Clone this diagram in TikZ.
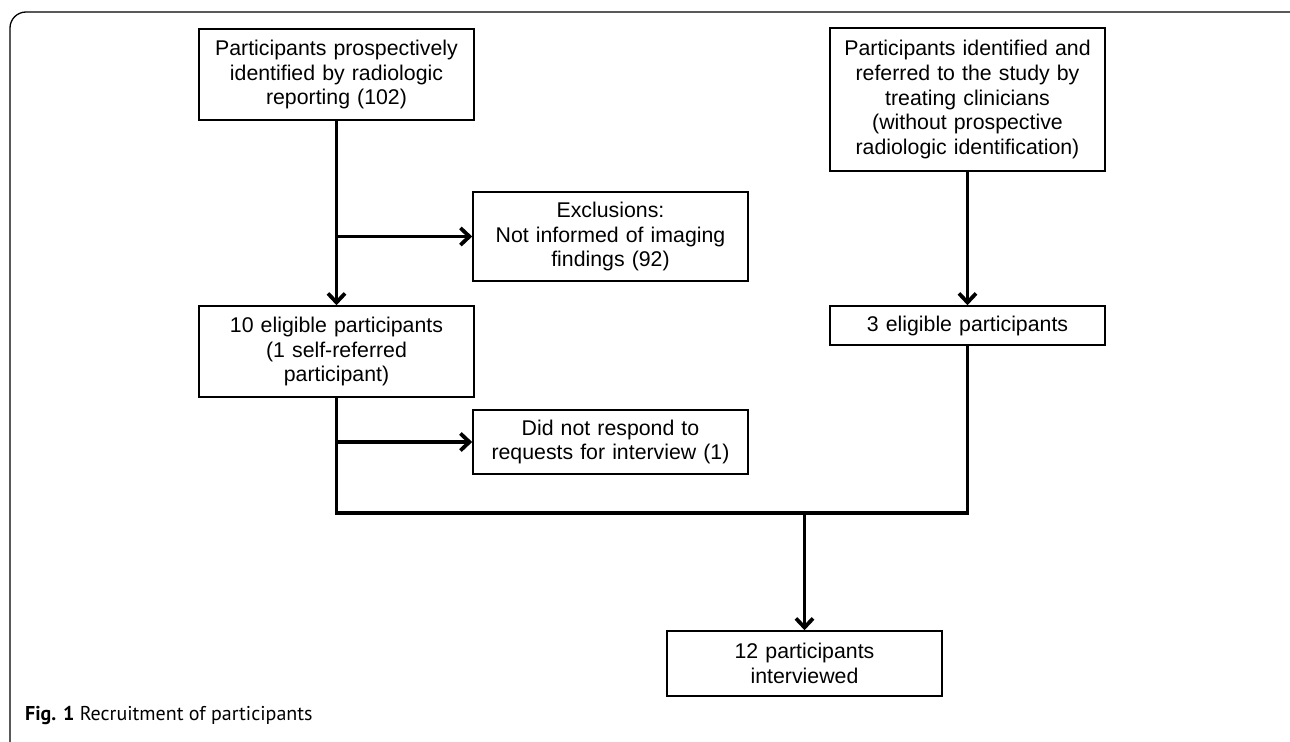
\documentclass[tikz,border=0pt]{standalone}
\usepackage{fontspec}
\setmainfont{Liberation Sans}
\newfontfamily\capfont{PT Sans}
\usetikzlibrary{arrows.meta}
\begin{document}
\begin{tikzpicture}[x=1bp,y=-1bp,
  box/.style={draw, line width=1.6bp, minimum width=275bp, text width=270bp,
    align=center, inner sep=0pt,
    font=\fontsize{21.3bp}{24.6bp}\selectfont},
  conn/.style={line width=3.8bp, line join=miter},
  arr/.style={conn, -{Straight Barb[length=9bp,width=17bp]}}]
\useasboundingbox (0,0) rectangle (1290,742);
\clip (0,0) rectangle (1290,742);
\draw[line width=1.3bp, rounded corners=16bp] (10,12) rectangle (1310,770);

\node[box, minimum height=91bp]  (A)    at (336.5,74.5)  {Participants prospectively\\identified by radiologic\\reporting (102)};
\node[box, minimum height=143bp] (B)    at (967.5,99.5)  {Participants identified and\\referred to the study by\\treating clinicians\\(without prospective\\radiologic identification)};
\node[box, minimum height=89bp]  (Excl) at (610.5,236.5) {Exclusions:\\Not informed of imaging\\findings (92)};
\node[box, minimum height=91bp]  (E10)  at (336.5,351.5) {10 eligible participants\\(1 self-referred\\participant)};
\node[box, minimum height=39bp]  (E3)   at (967.5,325.5) {3 eligible participants};
\node[box, minimum height=64bp]  (DNR)  at (610.5,442)   {Did not respond to\\requests for interview (1)};
\node[box, minimum height=65bp]  (P12)  at (804.5,663.5) {12 participants\\interviewed};

\coordinate (m) at (804.5,513);

\draw[arr] (A.south) -- (E10.north);
\draw[arr] (A.south |- Excl.west) -- (Excl.west);
\draw[arr] (B.south) -- (E3.north);
\draw[arr] (E10.south |- DNR.west) -- (DNR.west);
\draw[conn] (E10.south) |- (m) -| (E3.south);
\draw[arr] (m) -- (P12.north);

\node[anchor=base west, inner sep=0pt, font=\capfont\fontsize{20bp}{23bp}\selectfont] (cap) at (25,720) {\textbf{Fig. 1} Recruitment of participants};
\end{tikzpicture}
\end{document}
